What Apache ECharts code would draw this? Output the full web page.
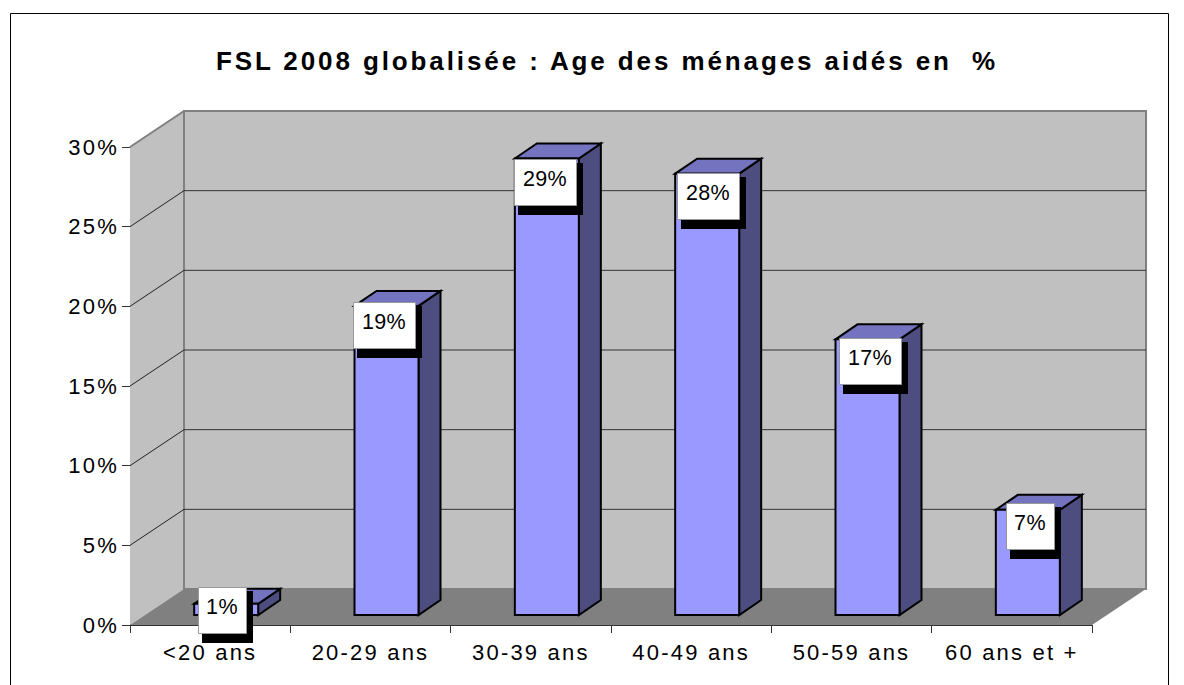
<!DOCTYPE html>
<html><head><meta charset="utf-8">
<style>html,body{margin:0;padding:0;background:#fff}#c{width:1184px;height:685px}
#c text{letter-spacing:2.2px}
#c text[style*="bold"]{letter-spacing:2.9px}
#c text[style*="21.5px"]{letter-spacing:.4px}
</style>
<script src="https://cdn.jsdelivr.net/npm/echarts@6/dist/echarts.min.js"></script>
</head><body><div id="c"></div>
<script>
const titleText = 'FSL 2008 globalisée : Age des ménages aidés en  %';
const categories = ['<20 ans','20-29 ans','30-39 ans','40-49 ans','50-59 ans','60 ans et +'];
const values = [0.7,19.4,28.65,27.7,17.3,6.6];
const valueLabels = ['1%','19%','29%','28%','17%','7%'];
const yTicks = [0,5,10,15,20,25,30];

const WALL_DX=54, WALL_DY=-36, BAR_DX=16, BAR_DY=-10, DEPTH_X=22, DEPTH_Y=-15, BAR_W=64;
const chart = echarts.init(document.getElementById('c'),null,{renderer:'svg'});
const poly=(pts,fill,stroke,lw)=>({type:'polygon',shape:{points:pts},style:{fill:fill,stroke:stroke||null,lineWidth:lw||0}});
const line=(a,b,stroke,lw)=>({type:'line',shape:{x1:a[0],y1:a[1],x2:b[0],y2:b[1]},style:{stroke:stroke,lineWidth:lw}});
const boxW=i=>valueLabels[i].length===2?48:62;
const boxShift=[-4,-3,-2,1,2,2];
const boxTop=[-17,-4,0,-1,-1,-7];

const option={
  animation:false,
  backgroundColor:'#fff',
  title:{text:titleText,left:602,top:43,textAlign:'center',
    textStyle:{fontFamily:'Liberation Sans',fontWeight:'bold',fontSize:26,color:'#000'}},
  grid:{left:130,right:92,top:147,bottom:60},
  xAxis:{type:'category',data:categories,boundaryGap:true,
    axisLine:{lineStyle:{color:'#333',width:1}},
    axisTick:{show:true,length:8,lineStyle:{color:'#333'},alignWithLabel:false},
    axisLabel:{fontFamily:'Liberation Sans',fontSize:22,color:'#000',margin:16},splitLine:{show:false}},
  yAxis:{type:'value',min:0,max:30,interval:5,
    axisLine:{show:true,lineStyle:{color:'#333',width:1}},
    axisTick:{show:true,length:8,lineStyle:{color:'#333'}},
    axisLabel:{fontFamily:'Liberation Sans',fontSize:22,color:'#000',margin:11,formatter:'{value}%'},splitLine:{show:false}},
  series:[
    {type:'custom',z:1,silent:true,clip:false,data:[[0]],renderItem(p,api){
      const o=api.coord([0,0]);const top=api.coord([0,30]);
      const w=p.coordSys.width;const L=p.coordSys.x,R=L+w;
      const y0=o[1],y1=top[1];
      return {type:'group',children:[
        poly([[L,y1],[L+WALL_DX,y1+WALL_DY],[L+WALL_DX,y0+WALL_DY],[L,y0]],'#C0C0C0'),
        poly([[L+WALL_DX,y1+WALL_DY],[R+WALL_DX,y1+WALL_DY],[R+WALL_DX,y0+WALL_DY],[L+WALL_DX,y0+WALL_DY]],'#C0C0C0','#808080',2),
        poly([[L,y0],[L+WALL_DX,y0+WALL_DY],[R+WALL_DX,y0+WALL_DY],[R,y0]],'#808080'),
        line([L,y1],[L+WALL_DX,y1+WALL_DY],'#808080',2)
      ]};
    }},
    {type:'custom',z:2,silent:true,clip:false,data:yTicks.slice(1,-1).map(v=>[v]),renderItem(p,api){
      const a=api.coord([0,api.value(0)]);
      const L=p.coordSys.x,R=L+p.coordSys.width,y=a[1];
      return {type:'group',children:[
        line([L,y],[L+WALL_DX,y+WALL_DY],'#222',1),
        line([L+WALL_DX,y+WALL_DY],[R+WALL_DX,y+WALL_DY],'#333',1)
      ]};
    }},
    {type:'custom',z:3,silent:true,clip:false,data:values.map((v,i)=>[i,v]),renderItem(p,api){
      const t=api.coord([api.value(0),api.value(1)]);const b=api.coord([api.value(0),0]);
      const x0=t[0]+BAR_DX-BAR_W/2,x1=x0+BAR_W,yt=t[1]+BAR_DY,yb=b[1]+BAR_DY;
      const st='#000';
      return {type:'group',children:[
        poly([[x1,yt],[x1+DEPTH_X,yt+DEPTH_Y],[x1+DEPTH_X,yb+DEPTH_Y],[x1,yb]],'#4D4D80',st,2),
        poly([[x0,yt],[x0+DEPTH_X,yt+DEPTH_Y],[x1+DEPTH_X,yt+DEPTH_Y],[x1,yt]],'#7373BF',st,2),
        {type:'rect',shape:{x:x0,y:yt,width:BAR_W,height:yb-yt},style:{fill:'#9999FF',stroke:st,lineWidth:2}}
      ]};
    }},
    {type:'custom',z:4,silent:true,clip:false,data:values.map((v,i)=>[i,v]),renderItem(p,api){
      const i=api.value(0);
      const t=api.coord([i,api.value(1)]);
      const W=boxW(i),H=46;
      const x=Math.round(t[0]+BAR_DX+boxShift[i]-W/2),y=Math.round(t[1]+BAR_DY+boxTop[i]);
      return {type:'group',children:[
        {type:'rect',shape:{x:x+4,y:y+4,width:W+3,height:H+6},style:{fill:'#000'}},
        {type:'rect',shape:{x:x+.5,y:y+.5,width:W,height:H},style:{fill:'#fff',stroke:'#999',lineWidth:1}},
        {type:'text',style:{x:x+W/2,y:y+20,text:valueLabels[i],align:'center',verticalAlign:'middle',
          font:'21.5px "Liberation Sans"',fill:'#000'}}
      ]};
    }}
  ],
  graphic:[{type:'rect',silent:true,z:-1,shape:{x:10.5,y:13.5,width:1158,height:700},style:{fill:'#fff',stroke:'#000',lineWidth:1}}]
};
chart.setOption(option);
</script></body></html>
